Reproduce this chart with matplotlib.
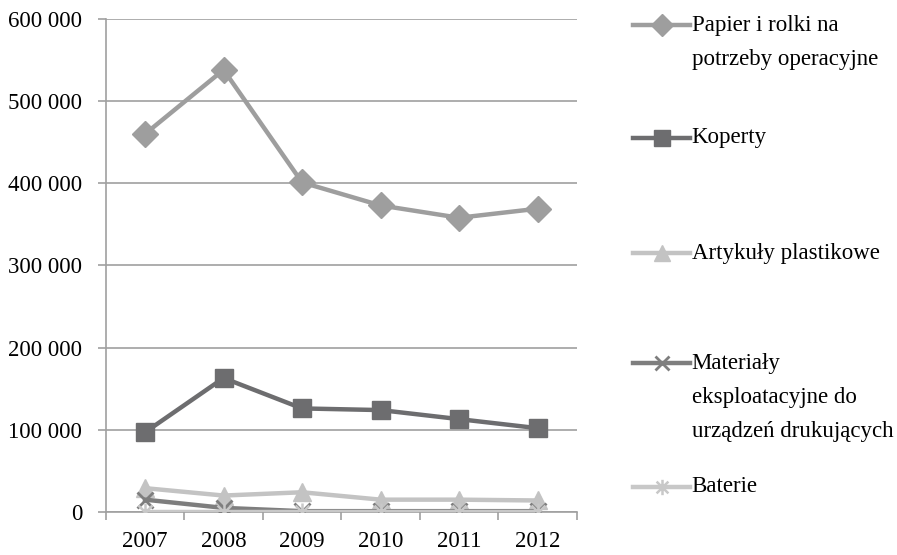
import numpy as np
import matplotlib.pyplot as plt
from matplotlib.path import Path
from matplotlib.lines import Line2D
from matplotlib.ticker import FuncFormatter

plt.rcParams['font.family'] = ['Liberation Serif', 'DejaVu Serif']

## the data
years = ['2007', '2008', '2009', '2010', '2011', '2012']
papier = [460000, 538000, 401000, 373000, 358000, 369000]
koperty = [97000, 163000, 126000, 124000, 113000, 102000]
plastik = [29000, 20000, 24000, 15000, 15000, 14000]
materialy = [15000, 5000, 1000, 1000, 1000, 1000]
baterie = [500, 500, 500, 500, 500, 500]

labels = [['Papier i rolki na', 'potrzeby operacyjne'], ['Koperty'], ['Artykuły plastikowe'],
          ['Materiały', 'eksploatacyjne do', 'urządzeń drukujących'], ['Baterie']]

# asterisk marker: x plus vertical bar
star = Path([(-1, -1), (1, 1), (-1, 1), (1, -1), (0, -1.3), (0, 1.3)],
            [Path.MOVETO, Path.LINETO, Path.MOVETO, Path.LINETO, Path.MOVETO, Path.LINETO])

styles = [
    dict(color='#9E9E9E', marker='D', ms=13),
    dict(color='#6D6D6F', marker='s', ms=13.5),
    dict(color='#C3C3C3', marker='^', ms=13),
    dict(color='#7E7E7E', marker='x', ms=12, mew=2),
    dict(color='#C8C8C8', marker=star, ms=13, mew=1.8),
]
series = [papier, koperty, plastik, materialy, baterie]

W, H = 897, 555
fig = plt.figure(figsize=(W / 100, H / 100), dpi=100)
ax = fig.add_axes([0.118, 0.0775, 0.525, 0.8885])

x = np.arange(len(years))
for vals, st in zip(series, styles):
    ax.plot(x, vals, lw=3.2, solid_joinstyle='miter', zorder=3, **st)

## axes and labels
ax.set_xlim(-0.5, 5.5)
ax.set_ylim(0, 600000)
ax.set_yticks(np.arange(0, 600001, 100000))
ax.yaxis.set_major_formatter(FuncFormatter(lambda v, p: f'{int(v):,}'.replace(',', ' ')))
ax.set_xticks(x)
ax.set_xticklabels(years)
ax.set_xticks(np.arange(-0.5, 5.6, 1), minor=True)
ax.tick_params(axis='x', which='major', length=0, labelsize=16.5, pad=14)
ax.tick_params(axis='x', which='minor', length=6, color='#A0A0A0', width=1.2)
ax.tick_params(axis='y', length=6, color='#A0A0A0', width=1.2, labelsize=16.5, pad=11)
ax.grid(axis='y', color='#A0A0A0', lw=1.2, zorder=0)
for s in ['top', 'right']:
    ax.spines[s].set_visible(False)
for s in ['left', 'bottom']:
    ax.spines[s].set_color('#A0A0A0')
    ax.spines[s].set_linewidth(1.2)

## legend drawn by hand
leg_px = [25, 138, 253, 363, 487]
step = 34
for lab, st, py in zip(labels, styles, leg_px):
    yy = 1 - py / H
    fig.add_artist(Line2D([0.706, 0.769], [yy, yy], transform=fig.transFigure,
                          lw=3.2, color=st['color']))
    fig.add_artist(Line2D([0.7375], [yy], transform=fig.transFigure,
                          **{k: (v * 0.85 if k == 'ms' else v) for k, v in st.items()}))
    for i, line in enumerate(lab):
        fig.text(0.771, 1 - (py + i * step) / H, line, fontsize=16.5, va='center', ha='left')

fig.savefig('out.png', dpi=100)
